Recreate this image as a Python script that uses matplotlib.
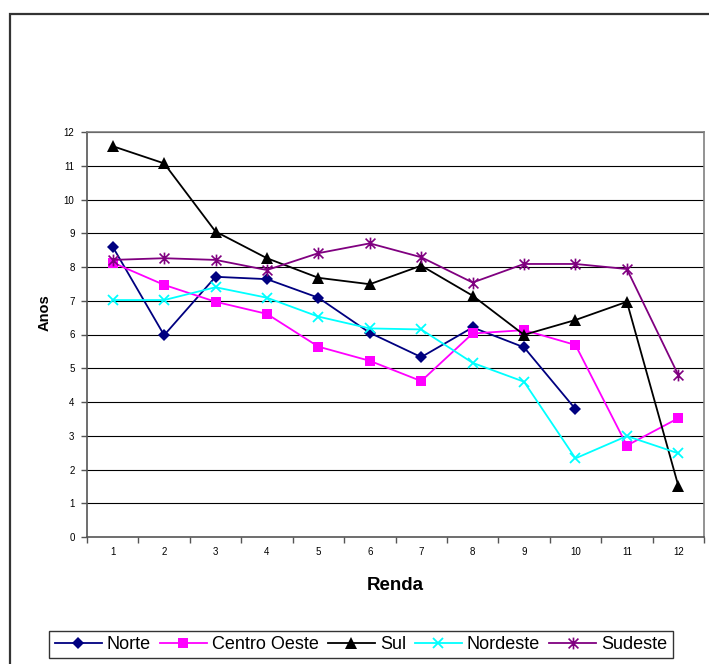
import matplotlib
matplotlib.use("Agg")
import matplotlib.pyplot as plt
from matplotlib import font_manager
from matplotlib.patches import Rectangle
from matplotlib.path import Path
from matplotlib.ticker import FixedLocator, NullFormatter, FixedFormatter

# Average years of schooling by income bracket, per region
renda = [1, 2, 3, 4, 5, 6, 7, 8, 9, 10, 11, 12]
norte = [8.60, 5.98, 7.71, 7.64, 7.09, 6.05, 5.33, 6.21, 5.62, 3.79]
centro_oeste = [8.13, 7.47, 6.97, 6.61, 5.64, 5.22, 4.62, 6.03, 6.13, 5.69, 2.71, 3.52]
sul = [11.58, 11.07, 9.05, 8.26, 7.68, 7.49, 8.04, 7.15, 5.99, 6.43, 6.97, 1.52]
nordeste = [7.02, 7.02, 7.40, 7.09, 6.53, 6.18, 6.15, 5.16, 4.60, 2.33, 2.99, 2.48]
sudeste = [8.21, 8.26, 8.21, 7.91, 8.41, 8.70, 8.29, 7.54, 8.09, 8.09, 7.94, 4.80]
series_names = ["Norte", "Centro Oeste", "Sul", "Nordeste", "Sudeste"]
y_ticks = list(range(0, 13))

available = {f.name for f in font_manager.fontManager.ttflist}
base_font = "Liberation Sans Narrow" if "Liberation Sans Narrow" in available else "Liberation Sans"
plt.rcParams["font.family"] = [base_font, "DejaVu Sans"]

# asterisk marker: an "x" crossed by a vertical bar
star_path = Path(
    [(-1, -1), (1, 1), (-1, 1), (1, -1), (0, -1.2), (0, 1.2)],
    [Path.MOVETO, Path.LINETO, Path.MOVETO, Path.LINETO, Path.MOVETO, Path.LINETO],
)

W, H = 709, 664
fig = plt.figure(figsize=(W / 100, H / 100), dpi=100)
fig.patch.set_facecolor("white")

# outer chart frame
fig.patches.append(Rectangle((10 / W, -0.2), 1.2, 1.2 - 14 / H,
                             transform=fig.transFigure, fill=False,
                             edgecolor="#333333", linewidth=1.6))

ax = fig.add_axes([87 / W, (H - 537) / H, (704 - 87) / W, (537 - 132) / H])

ax.set_xlim(0.5, 12.5)
ax.set_ylim(0, 12)

for y in y_ticks[1:]:
    ax.axhline(y, color="black", linewidth=0.8, zorder=1)

styles = [
    (norte, "#000080", dict(marker="D", markersize=6.5, markeredgewidth=0)),
    (centro_oeste, "#FF00FF", dict(marker="s", markersize=6.5, markeredgewidth=0)),
    (sul, "#000000", dict(marker="^", markersize=8, markeredgewidth=0)),
    (nordeste, "#00FFFF", dict(marker="x", markersize=7.5, markeredgewidth=1.3)),
    (sudeste, "#800080", dict(marker=star_path, markersize=8.5, markeredgewidth=1.2)),
]
for name, (vals, color, mk) in zip(series_names, styles):
    ax.plot(renda[:len(vals)], vals, color=color, linewidth=1.3,
            markerfacecolor=color, markeredgecolor=color, label=name,
            zorder=3, clip_on=False, **mk)

for side in ["left", "bottom", "right", "top"]:
    ax.spines[side].set_color("#808080")
    ax.spines[side].set_linewidth(1.2)
ax.spines["left"].set_color("#555555")
ax.spines["bottom"].set_color("#555555")

ax.yaxis.set_major_locator(FixedLocator(y_ticks))
ax.set_yticklabels([str(v) for v in y_ticks])
ax.tick_params(axis="y", length=4, width=1, color="#555555", pad=5,
               labelsize=7, labelcolor="black")

ax.xaxis.set_major_locator(FixedLocator([b + 0.5 for b in range(0, 13)]))
ax.xaxis.set_major_formatter(NullFormatter())
ax.xaxis.set_minor_locator(FixedLocator(renda))
ax.xaxis.set_minor_formatter(FixedFormatter([str(r) for r in renda]))
ax.tick_params(axis="x", which="major", length=4, width=1, color="#555555")
ax.tick_params(axis="x", which="minor", length=0, pad=7, labelsize=7)

fig.text(45 / W, 1 - 313 / H, "Anos", rotation=90, ha="center", va="center",
         fontsize=10.5, fontweight="bold")
fig.text(395 / W, 1 - 586 / H, "Renda", ha="center", va="center",
         fontsize=13.5, fontweight="bold")

handles, labels = ax.get_legend_handles_labels()
leg = fig.legend(handles, labels, loc="center", ncol=5,
                 bbox_to_anchor=(361 / W, 1 - 644.5 / H),
                 fontsize=13, frameon=True, fancybox=False,
                 handlelength=2.6, handletextpad=0.28, columnspacing=0.5,
                 borderpad=0.3, borderaxespad=0, markerscale=1.0)
leg.get_frame().set_edgecolor("black")
leg.get_frame().set_linewidth(1.0)

fig.savefig("out.png", dpi=100)
